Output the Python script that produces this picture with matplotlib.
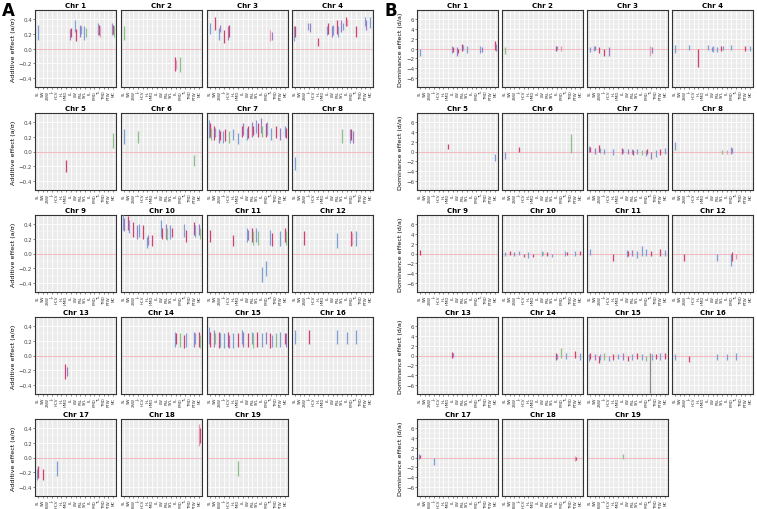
import numpy as np
import matplotlib
matplotlib.use('Agg')
import matplotlib.pyplot as plt
from matplotlib.ticker import MultipleLocator

traits = ['SL', 'SW', '2SW', 'JL', 'HCV', 'HL', 'HMD', 'LL', 'LW', 'PSL',
          'SYL', 'FL', 'PMD', 'TL', 'TMD', 'PTW', 'MC']

# (trait index, lower, upper, colour code)
A1 = [(0, 0.12, 0.32, 'b'), (7, 0.12, 0.27, 'v'), (7, 0.15, 0.28, 'r'), (8, 0.22, 0.38, 'b'), (8, 0.1, 0.27, 'r'),
      (9, 0.15, 0.32, 'v'), (9, 0.2, 0.3, 'b'), (10, 0.12, 0.3, 'b'), (10, 0.15, 0.28, 'g'), (13, 0.18, 0.35, 'b'),
      (13, 0.18, 0.32, 'r'), (13, 0.15, 0.3, 'p'), (16, 0.18, 0.35, 'b'), (16, 0.2, 0.32, 'r'), (16, 0.15, 0.3, 'g')]
A2 = [(0, 0.12, 0.3, 'g'), (11, -0.3, -0.12, 'r'), (11, -0.28, -0.15, 'p'), (12, -0.32, -0.12, 'g')]
A3 = [(0, 0.2, 0.35, 'b'), (1, 0.25, 0.42, 'r'), (2, 0.12, 0.28, 'b'), (2, 0.22, 0.32, 'v'), (3, 0.08, 0.25, 'r'),
      (4, 0.12, 0.3, 'v'), (4, 0.15, 0.32, 'r'), (13, 0.1, 0.25, 'p'), (13, 0.12, 0.22, 'v')]
A4 = [(0, 0.1, 0.3, 'b'), (0, 0.15, 0.3, 'r'), (3, 0.25, 0.35, 'b'), (3, 0.22, 0.35, 'v'), (5, 0.04, 0.14, 'r'),
      (7, 0.18, 0.3, 'b'), (7, 0.2, 0.35, 'r'), (8, 0.15, 0.3, 'v'), (8, 0.18, 0.32, 'b'), (9, 0.2, 0.38, 'r'),
      (9, 0.15, 0.3, 'b'), (10, 0.22, 0.38, 'v'), (10, 0.25, 0.35, 'b'), (11, 0.3, 0.42, 'r'), (11, 0.3, 0.4, 'p'),
      (13, 0.15, 0.3, 'r'), (15, 0.3, 0.42, 'b'), (15, 0.25, 0.38, 'v'), (16, 0.28, 0.42, 'b')]
A5 = [(6, -0.28, -0.12, 'r'), (16, 0.05, 0.25, 'g')]
A6 = [(0, 0.1, 0.3, 'b'), (3, 0.12, 0.28, 'g'), (15, -0.2, -0.05, 'g')]
A7 = [(0, 0.18, 0.42, 'b'), (0, 0.2, 0.38, 'r'), (0, 0.15, 0.32, 'g'), (1, 0.15, 0.35, 'r'), (1, 0.2, 0.32, 'b'),
      (2, 0.12, 0.3, 'v'), (2, 0.15, 0.28, 'r'), (3, 0.12, 0.28, 'b'), (3, 0.14, 0.3, 'r'), (4, 0.12, 0.28, 'g'),
      (5, 0.15, 0.3, 'b'), (6, 0.1, 0.25, 'b'), (7, 0.2, 0.35, 'r'), (7, 0.22, 0.38, 'v'), (8, 0.15, 0.32, 'b'),
      (8, 0.18, 0.35, 'r'), (9, 0.2, 0.4, 'v'), (9, 0.22, 0.35, 'r'), (10, 0.25, 0.42, 'b'), (10, 0.2, 0.38, 'r'),
      (11, 0.25, 0.45, 'v'), (11, 0.2, 0.35, 'g'), (12, 0.2, 0.38, 'r'), (12, 0.22, 0.4, 'b'), (13, 0.15, 0.32, 'b'),
      (14, 0.18, 0.35, 'r'), (15, 0.15, 0.32, 'v'), (16, 0.2, 0.35, 'b'), (16, 0.18, 0.32, 'r')]
A8 = [(0, -0.25, -0.08, 'b'), (10, 0.12, 0.3, 'g'), (12, 0.12, 0.3, 'b'), (12, 0.15, 0.3, 'r'), (12, 0.12, 0.28, 'v')]
A9 = []
A10 = [(0, 0.32, 0.52, 'b'), (0, 0.3, 0.48, 'v'), (1, 0.32, 0.5, 'r'), (1, 0.28, 0.45, 'b'), (2, 0.22, 0.42, 'r'),
       (3, 0.2, 0.38, 'v'), (3, 0.22, 0.4, 'b'), (4, 0.2, 0.38, 'r'), (5, 0.08, 0.22, 'b'), (5, 0.12, 0.25, 'v'),
       (6, 0.1, 0.25, 'r'), (8, 0.22, 0.45, 'b'), (8, 0.2, 0.35, 'r'), (9, 0.2, 0.4, 'v'), (9, 0.18, 0.35, 'g'),
       (10, 0.2, 0.38, 'b'), (10, 0.22, 0.35, 'r'), (13, 0.22, 0.4, 'b'), (13, 0.15, 0.32, 'r'), (15, 0.25, 0.42, 'r'),
       (15, 0.22, 0.38, 'b'), (16, 0.25, 0.4, 'v'), (16, 0.2, 0.35, 'g')]
A11 = [(0, 0.15, 0.32, 'r'), (5, 0.1, 0.25, 'r'), (8, 0.15, 0.35, 'b'), (8, 0.18, 0.32, 'v'), (9, 0.15, 0.35, 'r'),
       (9, 0.12, 0.3, 'g'), (10, 0.15, 0.35, 'b'), (10, 0.12, 0.3, 'g'), (11, -0.38, -0.18, 'b'),
       (12, -0.3, -0.1, 'b'), (13, 0.12, 0.32, 'b'), (13, 0.1, 0.28, 'r'), (15, 0.1, 0.3, 'b'),
       (16, 0.15, 0.35, 'r'), (16, 0.12, 0.3, 'g')]
A12 = [(2, 0.12, 0.3, 'r'), (9, 0.08, 0.28, 'b'), (12, 0.1, 0.3, 'r'), (12, 0.12, 0.28, 'p'), (13, 0.1, 0.3, 'b')]
A13 = [(6, -0.32, -0.12, 'r'), (6, -0.28, -0.15, 'v')]
A14 = [(11, 0.12, 0.32, 'b'), (11, 0.15, 0.3, 'r'), (12, 0.12, 0.3, 'g'), (13, 0.1, 0.28, 'r'), (13, 0.12, 0.3, 'b'),
       (15, 0.12, 0.32, 'v'), (15, 0.15, 0.3, 'b'), (16, 0.12, 0.32, 'r'), (16, 0.1, 0.28, 'g')]
A15 = [(0, 0.15, 0.38, 'b'), (0, 0.12, 0.32, 'r'), (1, 0.12, 0.35, 'v'), (1, 0.15, 0.3, 'g'), (2, 0.1, 0.32, 'r'),
       (2, 0.12, 0.3, 'b'), (3, 0.1, 0.3, 'b'), (4, 0.12, 0.32, 'r'), (4, 0.1, 0.28, 'v'), (5, 0.1, 0.3, 'b'),
       (6, 0.12, 0.3, 'r'), (7, 0.15, 0.35, 'b'), (7, 0.12, 0.32, 'v'), (8, 0.12, 0.3, 'r'), (9, 0.15, 0.32, 'b'),
       (9, 0.1, 0.3, 'g'), (10, 0.12, 0.32, 'r'), (11, 0.12, 0.3, 'b'), (12, 0.15, 0.32, 'v'), (13, 0.1, 0.3, 'r'),
       (13, 0.12, 0.28, 'b'), (14, 0.12, 0.3, 'g'), (15, 0.12, 0.32, 'b'), (16, 0.15, 0.3, 'r'), (16, 0.12, 0.3, 'v')]
A16 = [(0, 0.15, 0.35, 'b'), (3, 0.15, 0.35, 'r'), (9, 0.15, 0.35, 'b'), (11, 0.15, 0.32, 'b'), (13, 0.15, 0.35, 'b')]
A17 = [(0, -0.3, -0.15, 'b'), (0, -0.28, -0.12, 'r'), (1, -0.3, -0.15, 'r'), (4, -0.25, -0.05, 'b')]
A18 = [(16, 0.15, 0.45, 'p'), (16, 0.2, 0.4, 'r')]
A19 = [(6, -0.25, -0.05, 'g')]

B1 = [(0, -1.5, 0, 'b'), (7, -1, 0.5, 'b'), (7, -0.8, 0.3, 'r'), (8, -1.5, 0.3, 'v'), (8, -1, 0, 'r'),
      (9, -0.5, 1, 'r'), (9, -0.3, 0.8, 'b'), (10, -1, 0.5, 'b'), (13, -1, 0.5, 'b'), (13, -0.8, 0.3, 'v'),
      (16, -0.3, 1.5, 'r'), (16, -0.5, 1, 'v')]
B2 = [(0, -1.2, 0.3, 'g'), (11, -0.5, 0.6, 'r'), (11, -0.3, 0.5, 'b'), (12, -0.5, 0.5, 'p')]
B3 = [(0, -0.8, 0.3, 'b'), (1, -0.5, 0.5, 'b'), (1, -0.3, 0.6, 'v'), (2, -1, 0.3, 'r'), (3, -1.5, 0, 'r'),
      (4, -1.5, 0.3, 'v'), (13, -1.5, 0.5, 'p'), (13, -1, 0.3, 'v')]
B4 = [(0, -1, 0.8, 'b'), (3, -0.3, 0.8, 'b'), (5, -3.8, 0, 'r'), (7, -0.3, 0.8, 'b'), (8, -0.5, 0.3, 'v'),
      (8, -0.8, 0.5, 'b'), (9, -0.8, 0.3, 'b'), (10, -0.5, 0.5, 'r'), (10, -0.3, 0.5, 'b'), (12, -0.3, 0.8, 'b'),
      (15, -0.5, 0.5, 'r'), (16, -0.5, 0.5, 'b')]
B5 = [(6, 0.5, 1.5, 'r'), (16, -2, -0.5, 'b')]
B6 = [(0, -1.5, 0, 'b'), (3, 0, 1, 'r'), (14, -0.3, 3.5, 'g')]
B7 = [(0, -0.2, 1.2, 'b'), (0, 0, 1, 'r'), (1, -0.5, 0.8, 'v'), (2, 0, 1.3, 'r'), (2, -0.3, 0.8, 'b'),
      (3, -0.5, 0.5, 'b'), (5, -0.8, 0.5, 'b'), (7, -0.5, 0.8, 'r'), (7, -0.3, 0.5, 'b'), (8, -0.5, 0.5, 'v'),
      (9, -0.5, 0.5, 'b'), (9, -0.8, 0.3, 'r'), (10, -0.5, 0.5, 'b'), (11, -0.8, 0.3, 'g'), (12, -1, 0.3, 'b'),
      (12, -0.5, 0.5, 'r'), (13, -1.5, 0, 'v'), (14, -1.2, 0.3, 'b'), (15, -0.8, 0.5, 'r'), (16, -0.5, 0.8, 'b')]
B8 = [(0, 0.3, 2, 'b'), (10, -0.5, 0.3, 'g'), (11, -0.5, 0.3, 'p'), (12, -0.5, 1, 'b'), (12, -0.3, 0.8, 'v')]
B9 = [(0, -0.3, 0.8, 'r')]
B10 = [(0, -0.5, 0.3, 'b'), (1, -0.3, 0.5, 'r'), (2, -0.5, 0.3, 'v'), (3, -0.3, 0.5, 'b'), (4, -0.8, 0, 'r'),
       (5, -1, 0.3, 'b'), (6, -0.8, 0, 'r'), (8, -0.5, 0.5, 'b'), (8, -0.3, 0.3, 'g'), (9, -0.5, 0.3, 'r'),
       (10, -0.8, 0, 'b'), (13, -0.5, 0.5, 'b'), (13, -0.3, 0.3, 'r'), (15, -0.5, 0.5, 'b'), (16, -0.3, 0.5, 'r')]
B11 = [(0, -0.3, 1, 'b'), (5, -1.5, 0, 'r'), (8, -0.8, 0.8, 'b'), (8, -0.5, 0.5, 'r'), (9, -0.5, 0.8, 'v'),
       (10, -1, 0.5, 'b'), (11, -0.5, 1.5, 'b'), (12, -0.5, 1, 'b'), (13, -0.5, 0.5, 'r'), (15, -0.5, 1, 'r'),
       (16, -0.5, 0.8, 'b')]
B12 = [(2, -1.5, 0, 'r'), (9, -1.5, 0, 'b'), (12, -2.5, 0, 'b'), (12, -1.5, 0.3, 'r'), (13, -1.2, 0, 'p')]
B13 = [(7, -0.5, 0.8, 'r'), (7, -0.3, 0.5, 'v')]
B14 = [(11, -1, 0.5, 'r'), (11, -0.8, 0.3, 'b'), (12, -0.5, 1.5, 'g'), (13, -0.8, 0.5, 'b'), (15, -0.5, 1, 'r'),
       (16, -1, 0.5, 'b')]
B15 = [(0, -1.2, 0.3, 'b'), (0, -0.8, 0.5, 'r'), (1, -1, 0.3, 'v'), (2, -1.5, 0, 'r'), (2, -1, 0.3, 'b'),
       (3, -1, 0.5, 'g'), (4, -1.2, 0, 'b'), (5, -1, 0.3, 'r'), (6, -0.8, 0.3, 'b'), (7, -1, 0.5, 'v'),
       (8, -1.2, 0, 'r'), (9, -1, 0.3, 'b'), (10, -0.8, 0.5, 'r'), (11, -1, 0.3, 'b'), (12, -1.2, 0, 'g'),
       (13, -7.5, 0.5, 'k'), (13, -1, 0.3, 'b'), (14, -0.8, 0.3, 'r'), (15, -1, 0.5, 'b'), (16, -0.8, 0.5, 'r')]
B16 = [(0, -1, 0.3, 'b'), (3, -1.3, 0, 'r'), (9, -1, 0.3, 'b'), (11, -1, 0.3, 'b'), (13, -1, 0.5, 'b')]
B17 = [(0, -0.3, 0.8, 'b'), (0, -0.2, 0.6, 'r'), (3, -1.5, 0, 'b')]
B18 = [(15, -0.8, 0.3, 'p'), (15, -0.5, 0.2, 'r')]
B19 = [(7, -0.3, 0.8, 'g')]

additive = [A1, A2, A3, A4, A5, A6, A7, A8, A9, A10, A11, A12, A13, A14, A15, A16, A17, A18, A19]
dominance = [B1, B2, B3, B4, B5, B6, B7, B8, B9, B10, B11, B12, B13, B14, B15, B16, B17, B18, B19]

colors = {'b': '#7f9fd9', 'r': '#d4406e', 'p': '#e99bbb', 'g': '#8fc08c', 'v': '#9e7cc4', 'k': '#8a8a8a'}

W, H = 757, 510
fig = plt.figure(figsize=(W / 100, H / 100), dpi=100)

col_left_A = [35, 121, 207, 292]
col_left_B = [417, 502, 587, 672]
row_top = [11, 114, 216, 318, 420]
pw, ph = 81, 77


def draw_panel(ax, data, chrom, ylim, ystep, ylabel, first_col):
    ax.set_facecolor('#ebebeb')
    ax.set_xlim(-0.6, len(traits) - 0.4)
    ax.set_ylim(*ylim)
    ax.set_xticks(range(len(traits)))
    ax.set_xticklabels(traits, rotation=90, fontsize=2.9)
    ax.yaxis.set_major_locator(MultipleLocator(ystep))
    ax.yaxis.set_minor_locator(MultipleLocator(ystep / 2))
    ax.set_axisbelow(True)
    ax.grid(which='major', color='white', lw=0.6)
    ax.grid(which='minor', axis='y', color='white', lw=0.3)
    ax.axhline(0, color='#f0a0a8', lw=0.5, zorder=1)
    ax.tick_params(length=1.2, width=0.4, pad=0.8, colors='#333333')
    ax.tick_params(axis='y', which='minor', length=0)
    ax.tick_params(axis='y', labelsize=4.0, labelcolor='#444444')
    if not first_col:
        ax.tick_params(axis='y', labelleft=False, length=0)
    else:
        ax.set_ylabel(ylabel, fontsize=4.6, labelpad=2)
    for s in ax.spines.values():
        s.set_color('#333333')
        s.set_linewidth(0.8)
    ax.set_title('Chr %d' % chrom, fontsize=5.0, fontweight='bold', pad=2)
    # group by trait so overlapping intervals are dodged
    counts = {}
    for t, lo, hi, c in data:
        counts[t] = counts.get(t, 0) + 1
    seen = {}
    for t, lo, hi, c in data:
        k = seen.get(t, 0)
        seen[t] = k + 1
        off = (k - (counts[t] - 1) / 2) * 0.25
        ax.vlines(t + off, lo, hi, color=colors[c], lw=0.9, zorder=3)


for i in range(19):
    r, c = divmod(i, 4)
    axA = fig.add_axes([col_left_A[c] / W, 1 - (row_top[r] + ph) / H, pw / W, ph / H])
    draw_panel(axA, additive[i], i + 1, (-0.52, 0.52), 0.2, 'Additive effect (a/\u03c3)', c == 0)
    axB = fig.add_axes([col_left_B[c] / W, 1 - (row_top[r] + ph) / H, pw / W, ph / H])
    draw_panel(axB, dominance[i], i + 1, (-7.8, 7.8), 2, 'Dominance effect (d/a)', c == 0)

fig.text(2 / W, 1 - 2 / H, 'A', fontsize=12, fontweight='bold', va='top', ha='left')
fig.text(384 / W, 1 - 2 / H, 'B', fontsize=12, fontweight='bold', va='top', ha='left')

fig.savefig('out.png', dpi=100)
